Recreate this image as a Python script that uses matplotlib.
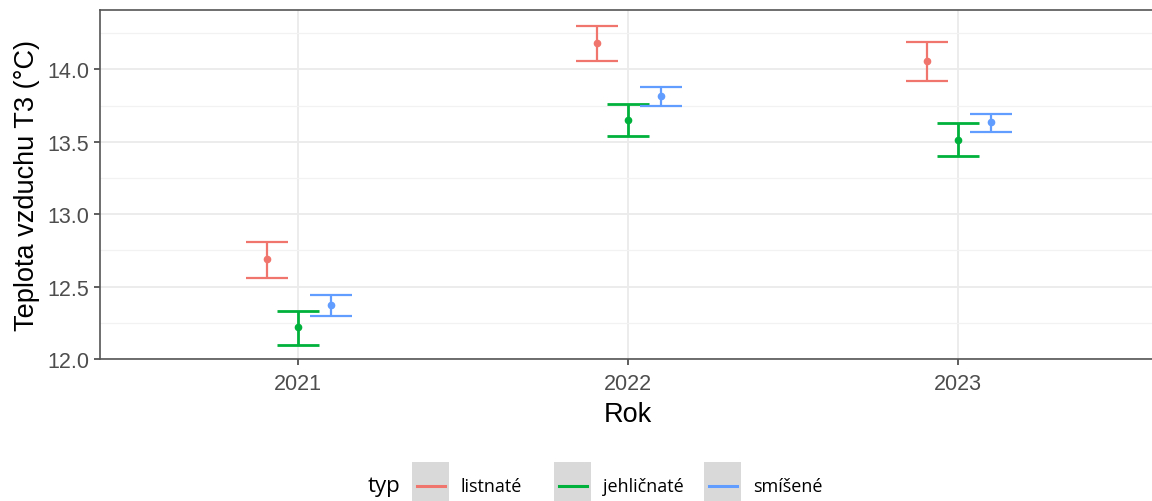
import numpy as np
import matplotlib.pyplot as plt
from matplotlib.patches import Rectangle
from matplotlib.lines import Line2D

# data
years = ['2021', '2022', '2023']
types = ['listnaté', 'jehličnaté', 'smíšené']
colors = ['#F0766D', '#00B13B', '#619CFF']

mean_list = [12.69, 14.18, 14.06]
low_list = [12.56, 14.055, 13.92]
high_list = [12.81, 14.30, 14.19]

mean_jehl = [12.22, 13.65, 13.515]
low_jehl = [12.10, 13.54, 13.40]
high_jehl = [12.33, 13.76, 13.63]

mean_smis = [12.375, 13.815, 13.635]
low_smis = [12.30, 13.75, 13.57]
high_smis = [12.44, 13.875, 13.695]

means = [mean_list, mean_jehl, mean_smis]
lows = [low_list, low_jehl, low_smis]
highs = [high_list, high_jehl, high_smis]

plt.rcParams['font.family'] = ['Liberation Sans', 'DejaVu Sans']

fig = plt.figure(figsize=(11.52, 5.02), dpi=100)
ax = fig.add_axes([100/1152, 142/502, 1056/1152, 349/502])

x = np.arange(1, len(years) + 1)
offsets = [-0.095, 0.0, 0.1]
widths = [1.6, 2.0, 1.6]
for k in range(len(types)):
    m = np.array(means[k])
    lo = m - np.array(lows[k])
    hi = np.array(highs[k]) - m
    ax.errorbar(x + offsets[k], m, yerr=[lo, hi], fmt='o', color=colors[k],
                ms=4.5, elinewidth=widths[k], capsize=15, capthick=widths[k], zorder=3)

ax.set_xlim(0.4, 3.6)
ax.set_ylim(12.0, 14.41)
ax.set_xticks(x)
ax.set_xticklabels(years)
ax.set_yticks([12.0, 12.5, 13.0, 13.5, 14.0])
ax.set_yticklabels(['12.0', '12.5', '13.0', '13.5', '14.0'])
ax.set_yticks([12.25, 12.75, 13.25, 13.75, 14.25], minor=True)
ax.grid(True, which='major', color='#EBEBEB', lw=1.3, zorder=0)
ax.grid(True, which='minor', axis='y', color='#F2F2F2', lw=0.9, zorder=0)
ax.set_axisbelow(True)
ax.tick_params(axis='both', which='major', length=4, width=1.1, color='#333333',
               labelsize=15.5, labelcolor='#4D4D4D', pad=4)
ax.tick_params(axis='x', which='major', pad=6)
ax.tick_params(axis='y', which='minor', length=0)
for s in ax.spines.values():
    s.set_color('#555555')
    s.set_linewidth(1.2)
ax.spines['right'].set_visible(False)

ax.set_xlabel('Rok', fontsize=19.5, labelpad=5)
ax.set_ylabel('Teplota vzduchu T3 (°C)', fontsize=19.5, labelpad=5)

# legend at the bottom, ggplot style with grey keys
legend_y = 15 / 502
fig.text(368/1152, legend_y, 'typ', fontsize=16, va='center', ha='left', family='Open Sans')
key_x = [412, 554, 704]
for k in range(len(types)):
    kx = key_x[k] / 1152
    fig.add_artist(Rectangle((kx, 0), 37/1152, 39/502, transform=fig.transFigure,
                             facecolor='#D9D9D9', edgecolor='none'))
    fig.add_artist(Line2D([kx + 5/1152, kx + 33/1152], [legend_y, legend_y],
                          transform=fig.transFigure, color=colors[k], lw=2.2))
    fig.text(kx + 49/1152, legend_y, types[k], fontsize=13, va='center', ha='left',
             family='Open Sans')

fig.savefig('out.png', dpi=100)
